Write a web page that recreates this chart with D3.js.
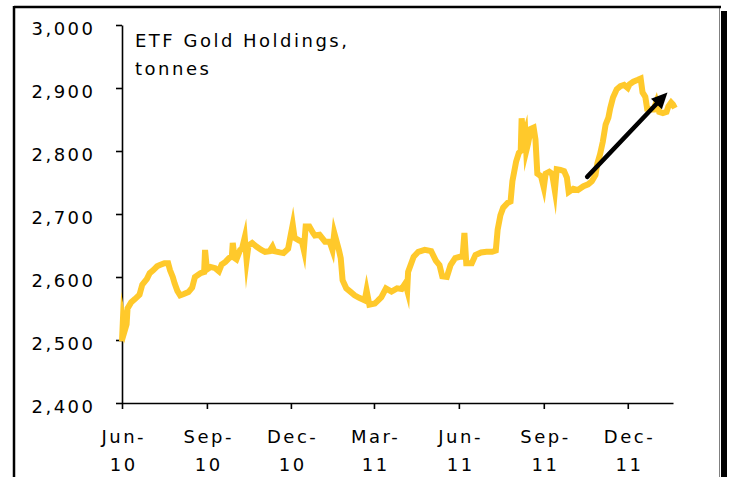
<!DOCTYPE html>
<html>
<head>
<meta charset="utf-8">
<script src="https://cdn.jsdelivr.net/npm/d3@7"></script>
<style>
  html, body { margin: 0; padding: 0; background: #fff; }
  svg { display: block; }
  text { font-family: Verdana, "DejaVu Sans", sans-serif; font-size: 18px; letter-spacing: 2.5px; fill: #000; }
</style>
</head>
<body>
<svg id="chart" width="730" height="477"></svg>
<script>
// ETF gold holdings (tonnes), observation dates and values
const dates = [
  "2010-06-01","2010-06-02","2010-06-04","2010-06-06","2010-06-07","2010-06-11","2010-06-15","2010-06-20",
  "2010-06-23","2010-06-28","2010-07-01","2010-07-05","2010-07-09","2010-07-12","2010-07-17","2010-07-21",
  "2010-07-23","2010-07-26","2010-07-28","2010-07-31","2010-08-03","2010-08-07","2010-08-12","2010-08-16",
  "2010-08-19","2010-08-25","2010-08-29","2010-08-30","2010-09-01","2010-09-05","2010-09-10","2010-09-14",
  "2010-09-17","2010-09-21","2010-09-25","2010-09-28","2010-09-29","2010-10-01","2010-10-03","2010-10-07",
  "2010-10-09","2010-10-12","2010-10-14","2010-10-16","2010-10-20","2010-10-25","2010-10-30","2010-11-03",
  "2010-11-08","2010-11-11","2010-11-13","2010-11-19","2010-11-23","2010-11-28","2010-12-01","2010-12-03",
  "2010-12-05","2010-12-10","2010-12-13","2010-12-15","2010-12-17","2010-12-21","2010-12-25","2010-12-27",
  "2011-01-01","2011-01-07","2011-01-12","2011-01-15","2011-01-17","2011-01-22","2011-01-24","2011-01-26",
  "2011-01-30","2011-02-04","2011-02-08","2011-02-13","2011-02-19","2011-02-21","2011-02-24","2011-03-02",
  "2011-03-05","2011-03-09","2011-03-14","2011-03-20","2011-03-26","2011-03-31","2011-04-04","2011-04-06",
  "2011-04-07","2011-04-13","2011-04-18","2011-04-25","2011-05-02","2011-05-07","2011-05-11","2011-05-14",
  "2011-05-19","2011-05-23","2011-05-28","2011-06-02","2011-06-05","2011-06-07","2011-06-09","2011-06-15",
  "2011-06-19","2011-06-25","2011-07-01","2011-07-07","2011-07-11","2011-07-13","2011-07-16","2011-07-19",
  "2011-07-24","2011-07-27","2011-07-29","2011-08-02","2011-08-05","2011-08-07","2011-08-08","2011-08-10",
  "2011-08-12","2011-08-13","2011-08-15","2011-08-18","2011-08-21","2011-08-23","2011-08-25","2011-08-29",
  "2011-09-01","2011-09-03","2011-09-07","2011-09-10","2011-09-13","2011-09-15","2011-09-19","2011-09-23",
  "2011-09-26","2011-09-28","2011-10-03","2011-10-08","2011-10-14","2011-10-19","2011-10-23","2011-10-27",
  "2011-10-29","2011-11-01","2011-11-04","2011-11-07","2011-11-10","2011-11-12","2011-11-15","2011-11-19",
  "2011-11-23","2011-11-27","2011-12-01","2011-12-03","2011-12-07","2011-12-12","2011-12-15","2011-12-17",
  "2011-12-20","2011-12-22","2011-12-26","2011-12-29","2012-01-01","2012-01-04","2012-01-08","2012-01-12",
  "2012-01-14","2012-01-17","2012-01-19","2012-01-21"
];
const holdings = [
  2498,2532,2515,2525,2550,2560,2565,2572,
  2588,2597,2606,2611,2617,2619,2622,2622,
  2611,2600,2590,2578,2571,2573,2576,2583,
  2600,2606,2608,2643,2612,2616,2614,2609,
  2620,2624,2630,2632,2654,2630,2628,2643,
  2645,2663,2627,2650,2654,2648,2643,2640,
  2641,2648,2641,2639,2638,2645,2668,2683,
  2662,2658,2656,2643,2680,2680,2670,2666,
  2667,2656,2656,2643,2670,2643,2630,2595,
  2582,2576,2571,2567,2563,2579,2556,2558,
  2562,2568,2582,2577,2582,2581,2590,2579,
  2608,2632,2640,2643,2641,2626,2619,2601,
  2600,2619,2630,2632,2632,2670,2622,2622,
  2635,2639,2640,2640,2642,2675,2698,2710,
  2718,2720,2752,2783,2797,2800,2852,2820,
  2830,2800,2812,2835,2837,2818,2764,2760,
  2742,2764,2767,2764,2737,2771,2770,2768,
  2758,2735,2740,2738,2744,2747,2752,2762,
  2780,2795,2815,2842,2853,2868,2885,2898,
  2903,2905,2900,2906,2910,2913,2915,2893,
  2886,2867,2866,2866,2878,2862,2860,2862,
  2871,2877,2874,2868
];

const yTicks = [2400, 2500, 2600, 2700, 2800, 2900, 3000];
const xTickDates = ["2010-06-01","2010-09-01","2010-12-01","2011-03-01","2011-06-01","2011-09-01","2011-12-01"];
const xTickMonths = ["Jun-","Sep-","Dec-","Mar-","Jun-","Sep-","Dec-"];
const xTickYears = ["10","10","10","11","11","11","11"];
const titleLines = ["ETF Gold Holdings,", "tonnes"];
// trend arrow: [date, tonnes] for tail and head
const arrowTail = ["2011-10-18", 2759];
const arrowHead = ["2012-01-13", 2893];

const parse = d3.utcParse("%Y-%m-%d");
const svg = d3.select("#chart");
const LS = 2.5; // letter spacing used on all text

// outer frame with drop shadow on the right
svg.append("rect").attr("x", 721).attr("y", 11).attr("width", 6).attr("height", 477).attr("fill", "#000");
svg.append("line").attr("x1", 719.5).attr("x2", 719.5).attr("y1", 7).attr("y2", 477)
  .attr("stroke", "#808080").attr("stroke-width", 1);
svg.append("line").attr("x1", 14).attr("x2", 721).attr("y1", 7).attr("y2", 7)
  .attr("stroke", "#000").attr("stroke-width", 2.5);
svg.append("line").attr("x1", 14).attr("x2", 14).attr("y1", 6).attr("y2", 477)
  .attr("stroke", "#000").attr("stroke-width", 2.5);

const x = d3.scaleUtc()
  .domain([parse("2010-06-01"), parse("2012-01-19")])
  .range([122, 673]);
const y = d3.scaleLinear().domain([2400, 3000]).range([403, 25]);

// y axis
const yAxis = svg.append("g").attr("transform", "translate(122,0)")
  .call(d3.axisLeft(y).tickValues(yTicks).tickFormat(d3.format(",")).tickSize(6).tickSizeOuter(0));
yAxis.select(".domain").attr("stroke", "#000").attr("stroke-width", 1.6);
yAxis.selectAll(".tick line").attr("stroke", "#000").attr("stroke-width", 1.6);
yAxis.selectAll(".tick text")
  .attr("x", -29 + LS).attr("dy", null).attr("y", 9.3)
  .attr("fill", "#000").style("font-size", "18px").style("font-family", "Verdana, 'DejaVu Sans', sans-serif");

// x axis with two-line month/year labels
const xAxis = svg.append("g").attr("transform", "translate(0,403)")
  .call(d3.axisBottom(x).tickValues(xTickDates.map(parse)).tickFormat("").tickSize(6).tickSizeOuter(0));
xAxis.select(".domain").attr("stroke", "#000").attr("stroke-width", 1.6);
xAxis.selectAll(".tick line").attr("stroke", "#000").attr("stroke-width", 1.6);
xAxis.selectAll(".tick text").remove();
xAxis.selectAll(".tick").each(function(d, i) {
  const t = d3.select(this).append("text")
    .attr("text-anchor", "middle")
    .attr("fill", "#000")
    .style("font-size", "18px")
    .style("font-family", "Verdana, 'DejaVu Sans', sans-serif");
  t.append("tspan").attr("x", LS / 2).attr("y", 40).text(xTickMonths[i]);
  t.append("tspan").attr("x", LS / 2).attr("y", 68).text(xTickYears[i]);
});

// title inside the plot
const title = svg.append("text").attr("x", 135);
titleLines.forEach((s, i) => title.append("tspan").attr("x", 135).attr("y", 47 + i * 28).text(s));

// holdings line
const series = dates.map((d, i) => ({ date: parse(d), value: holdings[i] }));
svg.append("path")
  .datum(series)
  .attr("fill", "none")
  .attr("stroke", "#FFC92B")
  .attr("stroke-width", 6)
  .attr("stroke-linejoin", "miter")
  .attr("stroke-miterlimit", 10)
  .attr("d", d3.line().x(d => x(d.date)).y(d => y(d.value)));

// trend arrow
const ax0 = x(parse(arrowTail[0])), ay0 = y(arrowTail[1]);
const ax1 = x(parse(arrowHead[0])), ay1 = y(arrowHead[1]);
const len = Math.hypot(ax1 - ax0, ay1 - ay0);
const ux = (ax1 - ax0) / len, uy = (ay1 - ay0) / len;
const headLen = 16, headHalf = 7.5;
svg.append("line")
  .attr("x1", ax0).attr("y1", ay0)
  .attr("x2", ax1 - ux * (headLen - 2)).attr("y2", ay1 - uy * (headLen - 2))
  .attr("stroke", "#000").attr("stroke-width", 4.5).attr("stroke-linecap", "round");
const bx = ax1 - ux * headLen, by = ay1 - uy * headLen;
svg.append("path")
  .attr("d", `M${ax1},${ay1}L${bx - uy * headHalf},${by + ux * headHalf}L${bx + uy * headHalf},${by - ux * headHalf}Z`)
  .attr("fill", "#000");
</script>
</body>
</html>
